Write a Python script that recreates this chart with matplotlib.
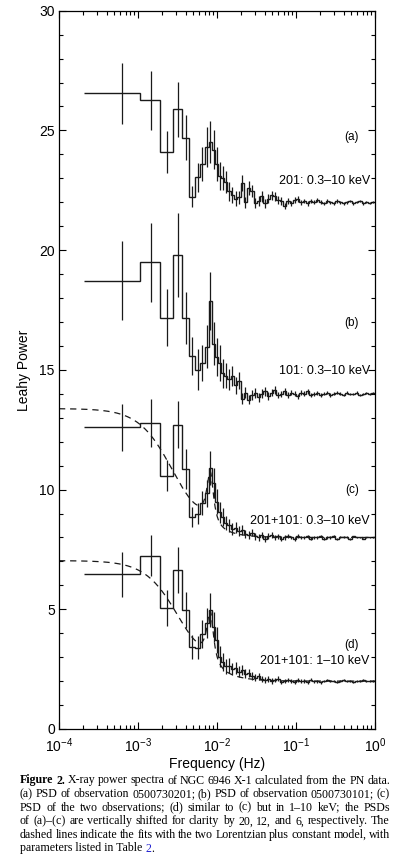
import numpy as np
import matplotlib
matplotlib.use('Agg')
import matplotlib.pyplot as plt
from matplotlib.ticker import LogLocator, MultipleLocator, NullFormatter

plt.rcParams['font.family'] = ['Liberation Sans', 'DejaVu Sans']
plt.rcParams['mathtext.fontset'] = 'custom'
plt.rcParams['mathtext.rm'] = 'Liberation Sans'
plt.rcParams['mathtext.it'] = 'Liberation Sans:italic'
plt.rcParams['mathtext.bf'] = 'Liberation Sans:bold'
plt.rcParams['lines.scale_dashes'] = False

# --- # frequency bin edges (Hz), shared by all four PSDs
freq_edges = [2.1e-4, 1.055e-3, 1.90e-3, 2.745e-3, 3.59e-3, 4.435e-3, 5.28e-3,
              6.125e-3, 6.97e-3, 7.815e-3, 8.66e-3, 9.505e-3, 1.035e-2, 1.12e-2,
              1.232e-2, 1.355e-2, 1.491e-2, 1.64e-2, 1.804e-2, 1.984e-2, 2.183e-2,
              2.401e-2, 2.641e-2, 2.905e-2, 3.196e-2, 3.515e-2, 3.867e-2, 4.254e-2,
              4.679e-2, 5.147e-2, 5.662e-2, 6.228e-2, 6.851e-2, 7.536e-2, 8.289e-2,
              9.118e-2, 0.1003, 0.1103, 0.1214, 0.1335, 0.1469, 0.1615, 0.1777,
              0.1955, 0.215, 0.2365, 0.2602, 0.2862, 0.3148, 0.3463, 0.3809, 0.419,
              0.4609, 0.507, 0.5577, 0.6135, 0.6748, 0.7423, 0.8165, 0.8982, 1.0]

# --- # Leahy powers (unshifted) and errors
psd_a = [6.55, 6.26, 4.10, 5.88, 4.70, 2.24, 3.04, 3.60, 4.30, 4.50, 4.20, 3.60, 3.10,
         3.00, 2.85, 2.45, 2.30, 2.15, 2.20, 2.80, 2.00, 2.60, 2.45,
         1.95, 2.05, 2.25, 1.95, 2.15, 2.30, 2.25, 2.10, 2.05, 1.85,
         2.05, 1.95, 2.10, 2.15, 2.00, 2.05, 1.95, 2.05, 2.00, 2.10,
         2.00, 1.95, 2.05, 2.00, 1.95, 2.05, 2.00, 1.95, 2.00, 2.05,
         1.95, 2.00, 2.05, 1.95, 2.00, 1.98, 2.02]
err_a = [1.28, 1.23, 0.86, 1.15, 0.94, 0.43, 0.60, 0.70, 0.84, 0.88, 0.80, 0.70, 0.60,
         0.50, 0.45, 0.38, 0.34, 0.30, 0.29, 0.33, 0.23, 0.28, 0.25,
         0.21, 0.21, 0.22, 0.18, 0.19, 0.19, 0.18, 0.16, 0.15, 0.13,
         0.13, 0.12, 0.12, 0.12, 0.11, 0.10, 0.10, 0.09, 0.09, 0.09,
         0.08, 0.08, 0.08, 0.07, 0.07, 0.07, 0.06, 0.06, 0.06, 0.06,
         0.05, 0.05, 0.05, 0.05, 0.04, 0.04, 0.04]

psd_b = [6.73, 7.49, 5.18, 7.80, 5.16, 3.58, 3.00, 3.28, 3.97, 5.88, 4.10, 3.55, 3.28,
         2.85, 2.75, 2.60, 2.75, 2.35, 2.55, 1.80, 2.05, 1.75, 1.95,
         2.05, 1.85, 2.00, 2.10, 1.90, 2.05, 2.15, 1.95, 2.00, 2.10,
         1.95, 2.05, 2.00, 1.90, 2.05, 2.00, 2.10, 1.95, 2.00, 2.05,
         1.95, 2.00, 2.05, 1.95, 2.00, 2.05, 2.00, 1.95, 2.05, 2.00,
         2.00, 2.05, 1.95, 2.00, 2.05, 2.00, 2.05]
err_b = [1.65, 1.65, 1.18, 1.75, 1.10, 0.80, 0.85, 0.75, 0.90, 1.20, 0.90, 0.80, 0.75,
         0.60, 0.52, 0.45, 0.42, 0.35, 0.34, 0.22, 0.23, 0.19, 0.20,
         0.21, 0.18, 0.18, 0.18, 0.16, 0.16, 0.16, 0.14, 0.13, 0.13,
         0.12, 0.12, 0.11, 0.10, 0.10, 0.10, 0.09, 0.09, 0.08, 0.08,
         0.08, 0.07, 0.07, 0.07, 0.06, 0.06, 0.06, 0.06, 0.05, 0.05,
         0.05, 0.05, 0.05, 0.04, 0.04, 0.04, 0.04]

psd_c = [6.61, 6.78, 4.57, 6.71, 4.87, 2.84, 3.00, 3.45, 3.85, 4.89, 4.26, 3.50, 3.05,
         2.85, 2.60, 2.50, 2.35, 2.40, 2.25, 2.30, 2.15, 2.10, 2.20,
         2.05, 2.00, 2.10, 1.95, 2.05, 2.10, 2.00, 2.05, 1.95, 2.00,
         2.05, 2.00, 1.95, 2.05, 2.00, 2.00, 2.05, 1.95, 2.00, 2.00,
         2.05, 1.95, 2.00, 2.00, 2.05, 1.95, 2.00, 2.00, 2.00, 1.95,
         2.05, 2.00, 2.00, 1.95, 2.00, 2.00, 2.00]
err_c = [0.98, 1.00, 0.65, 0.97, 0.84, 0.42, 0.45, 0.50, 0.57, 0.72, 0.63, 0.52, 0.45,
         0.37, 0.30, 0.27, 0.24, 0.23, 0.21, 0.20, 0.18, 0.16, 0.16,
         0.14, 0.13, 0.13, 0.12, 0.12, 0.11, 0.10, 0.10, 0.09, 0.09,
         0.09, 0.08, 0.08, 0.08, 0.07, 0.07, 0.07, 0.06, 0.06, 0.06,
         0.05, 0.05, 0.05, 0.05, 0.05, 0.04, 0.04, 0.04, 0.04, 0.04,
         0.03, 0.03, 0.03, 0.03, 0.03, 0.03, 0.03]

psd_d = [6.46, 7.24, 5.04, 6.64, 4.96, 3.41, 3.40, 3.97, 4.41, 4.97, 4.27, 3.72, 3.02,
         2.81, 2.62, 2.65, 2.50, 2.55, 2.40, 2.45, 2.30, 2.35, 2.20,
         2.15, 2.20, 2.10, 2.05, 2.10, 2.00, 2.05, 2.10, 1.95, 2.00,
         2.05, 2.00, 1.95, 2.05, 2.00, 2.00, 1.95, 2.05, 2.00, 2.00,
         1.95, 2.00, 2.05, 2.00, 2.00, 1.95, 2.00, 2.05, 2.00, 2.00,
         1.95, 2.00, 2.00, 2.05, 2.00, 2.00, 2.00]
err_d = [0.93, 0.85, 0.75, 0.97, 0.75, 0.50, 0.49, 0.57, 0.63, 0.72, 0.62, 0.54, 0.44,
         0.38, 0.32, 0.30, 0.26, 0.25, 0.22, 0.21, 0.19, 0.17, 0.16,
         0.15, 0.14, 0.13, 0.12, 0.12, 0.11, 0.10, 0.10, 0.09, 0.09,
         0.09, 0.08, 0.08, 0.08, 0.07, 0.07, 0.07, 0.06, 0.06, 0.06,
         0.05, 0.05, 0.05, 0.05, 0.05, 0.04, 0.04, 0.04, 0.04, 0.04,
         0.03, 0.03, 0.03, 0.03, 0.03, 0.03, 0.03]

shifts = [20, 12, 6, 0]
panel_tags = ['(a)', '(b)', '(c)', '(d)']
panel_names = ['201: 0.3\u201310 keV', '101: 0.3\u201310 keV',
               '201+101: 0.3\u201310 keV', '201+101: 1\u201310 keV']
tag_y = [24.73, 16.96, 9.98, 3.51]
name_y = [22.89, 14.95, 8.69, 2.84]

# --- # two Lorentzian + constant fits for (c) and (d): const, N1, w1, N2, f0, w2
fit_c = [2.0, 5.35, 2.8e-3, 2.2, 8.2e-3, 1.0e-3]
fit_d = [2.0, 5.0, 3.4e-3, 2.2, 8.2e-3, 1.0e-3]


def lorentz_model(f, p):
    c, n1, w1, n2, f0, w2 = p
    return c + n1 / (1 + (f / w1) ** 2) + n2 / (1 + ((f - f0) / w2) ** 2)


W, H = 398, 859
fig = plt.figure(figsize=(W / 100, H / 100), dpi=100)
ax = fig.add_axes([59 / W, 1 - 729 / H, (375 - 59) / W, (729 - 10.7) / H])

edges = np.array(freq_edges)
centers = 0.5 * (edges[:-1] + edges[1:])

for psd, err, sh in zip([psd_a, psd_b, psd_c, psd_d], [err_a, err_b, err_c, err_d], shifts):
    vals = np.array(psd) + sh
    ax.stairs(vals, edges, baseline=None, color='#1a1a1a', lw=1.0)
    ax.errorbar(centers, vals, yerr=err, fmt='none', ecolor='#1a1a1a', elinewidth=0.9)

f_model = np.logspace(-4, 0, 600)
for p, sh in [(fit_c, 6), (fit_d, 0)]:
    ax.plot(f_model, lorentz_model(f_model, p) + sh, color='#1a1a1a', lw=0.9,
            dashes=(4.5, 3.5))

for tag, ty, name, ny in zip(panel_tags, tag_y, panel_names, name_y):
    ax.text(0.51, ty, tag, ha='center', va='center', fontsize=8.5)
    ax.text(0.86, ny, name, ha='right', va='center', fontsize=9)

ax.set_xscale('log')
ax.set_xlim(1e-4, 1)
ax.set_ylim(0, 30)
ax.yaxis.set_major_locator(MultipleLocator(5))
ax.yaxis.set_minor_locator(MultipleLocator(1))
ax.xaxis.set_minor_locator(LogLocator(base=10, subs=np.arange(2, 10), numticks=20))
ax.xaxis.set_minor_formatter(NullFormatter())
ax.tick_params(which='both', direction='in', top=True, right=True, width=0.8,
               labelsize=10)
ax.tick_params(which='major', length=5)
ax.tick_params(which='minor', length=3)
ax.tick_params(axis='x', pad=5)
ax.tick_params(axis='y', pad=3)
for s in ax.spines.values():
    s.set_linewidth(0.9)
ax.set_xlabel('Frequency (Hz)', fontsize=10, labelpad=2)
ax.set_ylabel('Leahy Power', fontsize=10, labelpad=6)

# --- # caption, justified between x_left and x_right
caption_lines = [
    'Figure 2. X-ray power spectra of NGC 6946 X-1 calculated from the PN data.',
    '(a) PSD of observation 0500730201; (b) PSD of observation 0500730101; (c)',
    'PSD of the two observations; (d) similar to (c) but in 1\u201310 keV; the PSDs',
    'of (a)\u2013(c) are vertically shifted for clarity by 20, 12, and 6, respectively. The',
    'dashed lines indicate the fits with the two Lorentzian plus constant model, with',
]
last_line = 'parameters listed in Table'

fig.canvas.draw()
renderer = fig.canvas.get_renderer()
serif = ['Liberation Serif', 'DejaVu Serif']


def text_width(s, size, weight='normal'):
    t = fig.text(0, 0, s, fontsize=size, family=serif, weight=weight)
    w = t.get_window_extent(renderer).width
    t.remove()
    return w


x_left, x_right = 20, 390
cap_size = 10.5
while cap_size > 6.5:
    sp = text_width('a b', cap_size) - text_width('ab', cap_size)
    worst = 0
    for i, line in enumerate(caption_lines):
        words = line.split(' ')
        tot = sum(text_width(w, cap_size, 'bold' if (i == 0 and k < 2) else 'normal')
                  for k, w in enumerate(words))
        worst = max(worst, tot + 0.6 * sp * (len(words) - 1))
    if worst <= x_right - x_left:
        break
    cap_size -= 0.1

for i, line in enumerate(caption_lines):
    words = line.split(' ')
    weights = ['bold' if (i == 0 and k < 2) else 'normal' for k in range(len(words))]
    widths = [text_width(w, cap_size, wt) for w, wt in zip(words, weights)]
    gap = (x_right - x_left - sum(widths)) / (len(words) - 1)
    x = x_left
    y = 1 - (783.5 + 13.6 * i) / H
    for w, wt, wd in zip(words, weights, widths):
        fig.text(x / W, y, w, fontsize=cap_size, family=serif, weight=wt, va='baseline')
        x += wd + gap

sp = text_width('a b', cap_size) - text_width('ab', cap_size)
y = 1 - (783.5 + 13.6 * 5) / H
fig.text(x_left / W, y, last_line, fontsize=cap_size, family=serif, va='baseline')
x = x_left + text_width(last_line, cap_size) + sp
fig.text(x / W, y, '2', fontsize=cap_size, family=serif, va='baseline', color='#1f1fd0')
x += text_width('2', cap_size)
fig.text(x / W, y, '.', fontsize=cap_size, family=serif, va='baseline')

fig.savefig('out.png', dpi=100)
